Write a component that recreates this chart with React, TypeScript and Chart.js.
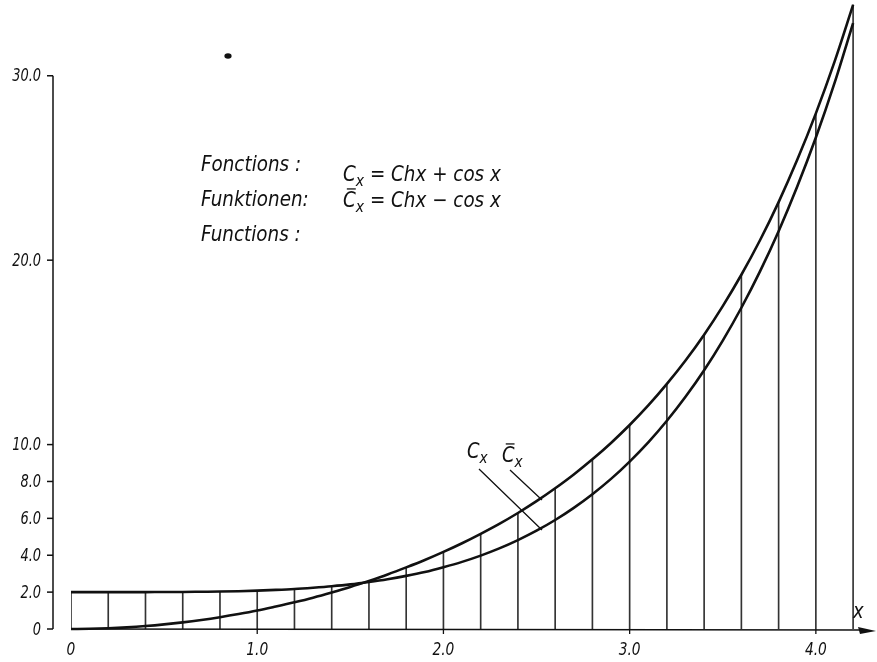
import React, { useEffect, useRef } from 'react';
import { Chart, registerables } from 'chart.js';

Chart.register(...registerables);

// x positions of the curve samples
const xValues = [
  0, 0.1, 0.2, 0.3, 0.4, 0.5, 0.6, 0.7, 0.8, 0.9,
  1.0, 1.1, 1.2, 1.3, 1.4, 1.5, 1.6, 1.7, 1.8, 1.9,
  2.0, 2.1, 2.2, 2.3, 2.4, 2.5, 2.6, 2.7, 2.8, 2.9,
  3.0, 3.1, 3.2, 3.3, 3.4, 3.5, 3.6, 3.7, 3.8, 3.9,
  4.0, 4.1, 4.2,
];

// C_x = Ch x + cos x
const cPlus = [
  2.0, 2.0, 2.0, 2.0, 2.0, 2.01, 2.01, 2.02, 2.03, 2.05,
  2.08, 2.12, 2.17, 2.24, 2.32, 2.42, 2.55, 2.70, 2.88, 3.09,
  3.35, 3.64, 3.98, 4.37, 4.82, 5.33, 5.91, 6.57, 7.31, 8.14,
  9.08, 10.12, 11.29, 12.59, 14.03, 15.64, 17.42, 19.39, 21.57, 23.99,
  26.65, 29.60, 32.86,
];

// C̄_x = Ch x − cos x
const cMinus = [
  0.0, 0.01, 0.04, 0.09, 0.16, 0.25, 0.36, 0.49, 0.64, 0.81,
  1.0, 1.22, 1.45, 1.70, 1.98, 2.28, 2.61, 2.96, 3.34, 3.74,
  4.18, 4.65, 5.16, 5.70, 6.29, 6.93, 7.63, 8.38, 9.20, 10.09,
  11.06, 12.12, 13.29, 14.56, 15.96, 17.51, 19.21, 21.08, 23.15, 25.44,
  27.96, 30.75, 33.84,
];

// vertical ordinates every 0.2
const ordinateX = [
  0, 0.2, 0.4, 0.6, 0.8, 1.0, 1.2, 1.4, 1.6, 1.8, 2.0,
  2.2, 2.4, 2.6, 2.8, 3.0, 3.2, 3.4, 3.6, 3.8, 4.0, 4.2,
];

const yTickValues = [0, 2, 4, 6, 8, 10, 20, 30];
const yTickLabels = ['0', '2.0', '4.0', '6.0', '8.0', '10.0', '20.0', '30.0'];
const xTickValues = [0, 1, 2, 3, 4];
const xTickLabels = ['0', '1.0', '2.0', '3.0', '4.0'];

const titleLines = ['Fonctions :', 'Funktionen:', 'Functions :'];
const formulaRests = [' = Chx + cos x', ' = Chx \u2212 cos x'];

const FONT = "'Liberation Sans Narrow', 'DejaVu Sans Condensed', 'Liberation Sans', sans-serif";
const INK = '#111';

function scaledText(
  ctx: CanvasRenderingContext2D,
  text: string,
  x: number,
  y: number,
  size: number,
  sx: number,
  align: CanvasTextAlign,
  baseline: CanvasTextBaseline,
) {
  ctx.save();
  ctx.font = `italic ${size}px ${FONT}`;
  ctx.textAlign = align;
  ctx.textBaseline = baseline;
  ctx.translate(x, y);
  ctx.scale(sx, 1);
  ctx.fillText(text, 0, 0);
  const w = ctx.measureText(text).width * sx;
  ctx.restore();
  return w;
}

function drawC(ctx: CanvasRenderingContext2D, x: number, y: number, size: number, bar: boolean, sx: number) {
  const w = scaledText(ctx, 'C', x, y, size, sx, 'left', 'alphabetic');
  if (bar) {
    ctx.lineWidth = 1.3;
    ctx.beginPath();
    ctx.moveTo(x + w * 0.3, y - size * 0.86);
    ctx.lineTo(x + w * 1.0, y - size * 0.86);
    ctx.stroke();
  }
  const w2 = scaledText(ctx, 'x', x + w, y + size * 0.25, Math.round(size * 0.78), sx, 'left', 'alphabetic');
  return x + w + w2;
}

const annotPlugin = {
  id: 'annot',
  afterDraw(chart: any) {
    const ctx: CanvasRenderingContext2D = chart.ctx;
    const xS = chart.scales.x;
    const yS = chart.scales.y;
    ctx.save();
    ctx.strokeStyle = INK;
    ctx.fillStyle = INK;
    ctx.lineCap = 'butt';

    // y axis
    const yAxisX = 53;
    ctx.lineWidth = 1.5;
    ctx.beginPath();
    ctx.moveTo(yAxisX, yS.getPixelForValue(0));
    ctx.lineTo(yAxisX, yS.getPixelForValue(30));
    ctx.stroke();
    yTickValues.forEach((v, i) => {
      const py = yS.getPixelForValue(v);
      ctx.lineWidth = 1.5;
      ctx.beginPath();
      ctx.moveTo(47, py);
      ctx.lineTo(yAxisX, py);
      ctx.stroke();
      scaledText(ctx, yTickLabels[i], 41, py + 1, 18, 0.8, 'right', 'middle');
    });

    // x axis with arrow
    const py0 = yS.getPixelForValue(0);
    const x0 = xS.getPixelForValue(0);
    ctx.lineWidth = 1.5;
    ctx.beginPath();
    ctx.moveTo(x0, py0);
    ctx.lineTo(862, py0 + 1);
    ctx.stroke();
    ctx.beginPath();
    ctx.moveTo(876, py0 + 2);
    ctx.lineTo(858, py0 - 2);
    ctx.lineTo(860, py0 + 5);
    ctx.closePath();
    ctx.fill();
    scaledText(ctx, 'x', 853, 618, 21, 0.95, 'left', 'alphabetic');

    xTickValues.forEach((v, i) => {
      const px = xS.getPixelForValue(v);
      if (v !== 0) {
        ctx.lineWidth = 1.3;
        ctx.beginPath();
        ctx.moveTo(px, py0);
        ctx.lineTo(px, py0 + 5);
        ctx.stroke();
      }
      scaledText(ctx, xTickLabels[i], px, py0 + 26, 18, 0.85, 'center', 'alphabetic');
    });

    // title block
    titleLines.forEach((t, i) => {
      scaledText(ctx, t, 201, 171 + i * 35, 21, 0.97, 'left', 'alphabetic');
    });
    let nx = drawC(ctx, 343, 181, 21, false, 0.97);
    scaledText(ctx, formulaRests[0], nx, 181, 21, 0.97, 'left', 'alphabetic');
    nx = drawC(ctx, 343, 207, 21, true, 0.97);
    scaledText(ctx, formulaRests[1], nx, 207, 21, 0.97, 'left', 'alphabetic');

    // curve labels with leader lines
    drawC(ctx, 467, 458, 21, false, 0.95);
    drawC(ctx, 502, 462, 21, true, 0.95);
    ctx.lineWidth = 1.3;
    ctx.beginPath();
    ctx.moveTo(479, 469);
    ctx.lineTo(542, 530);
    ctx.moveTo(510, 470);
    ctx.lineTo(542, 500);
    ctx.stroke();

    // ink dot
    ctx.beginPath();
    ctx.ellipse(228, 56, 3.6, 2.8, 0, 0, Math.PI * 2);
    ctx.fill();

    ctx.restore();
  },
};

export default function App() {
  const ref = useRef<HTMLCanvasElement | null>(null);
  useEffect(() => {
    if (!ref.current) return;
    const ordinateHeights = ordinateX.map((x) => {
      const idx = xValues.findIndex((v) => Math.abs(v - x) < 1e-6);
      return { x, y: Math.max(cPlus[idx], cMinus[idx]) };
    });
    const chart = new Chart(ref.current, {
      type: 'line',
      data: {
        datasets: [
          {
            type: 'line',
            label: 'C_x',
            data: xValues.map((x, i) => ({ x, y: cPlus[i] })),
            borderColor: INK,
            borderWidth: 2.6,
            pointRadius: 0,
            cubicInterpolationMode: 'monotone',
            fill: false,
            clip: false,
          } as any,
          {
            type: 'line',
            label: 'C̄_x',
            data: xValues.map((x, i) => ({ x, y: cMinus[i] })),
            borderColor: INK,
            borderWidth: 2.6,
            pointRadius: 0,
            cubicInterpolationMode: 'monotone',
            fill: false,
            clip: false,
          } as any,
          {
            type: 'bar',
            label: 'ordinates',
            data: ordinateHeights,
            backgroundColor: '#333',
            borderWidth: 0,
            barThickness: 1,
          } as any,
        ],
      },
      options: {
        responsive: false,
        animation: false,
        devicePixelRatio: 1,
        layout: { padding: { left: 71, right: 9, top: 2, bottom: 33 } },
        plugins: {
          legend: { display: false },
          tooltip: { enabled: false },
        },
        scales: {
          x: { type: 'linear', min: 0, max: 4.28, display: false, offset: false, grid: { offset: false } },
          y: { type: 'linear', min: 0, max: 34, display: false },
        },
      },
      plugins: [annotPlugin],
    });
    return () => chart.destroy();
  }, []);
  return (
    <div style={{ position: 'absolute', left: 0, top: 0, width: 877, height: 662, background: '#fff' }}>
      <canvas ref={ref} width={877} height={662} />
    </div>
  );
}
